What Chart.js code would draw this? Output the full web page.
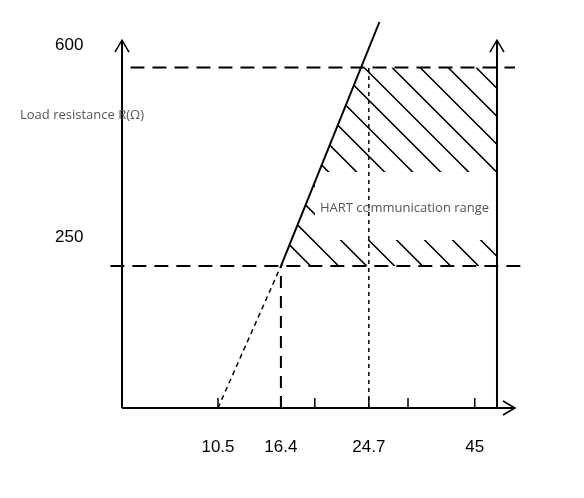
<!DOCTYPE html>
<html>
<head>
<meta charset="utf-8">
<script src="https://cdn.jsdelivr.net/npm/chart.js@4"></script>
<style>
body { margin: 0; background: #fff; }
#wrap { width: 584px; height: 498px; }
</style>
</head>
<body>
<div id="wrap"><canvas id="chart"></canvas></div>
<script>
// diagram units on x (the sketch is not to scale), labels are supply voltage
var tickLabels = ['10.5', '16.4', '24.7', '45'];
var tickPos = [9.06, 15.0, 23.3, 33.3];
var minorTicks = [18.2, 27.0];
var rightAxisX = 35.4;
var axisTopY = 648;
var loadLevels = [250, 600];
var loadLine = [{x: 9.06, y: 0}, {x: 15.0, y: 250}, {x: 24.3, y: 680}];

var black = '#000';

function line(data, dash, width) {
    return {
        data: data, borderColor: black, borderWidth: width || 2, borderDash: dash || [],
        pointRadius: 0, fill: false, tension: 0, clip: false
    };
}

var datasets = [
    line([{x: 0, y: 0}, {x: 0, y: axisTopY}]),
    line([{x: 0, y: 0}, {x: 37.1, y: 0}]),
    line([{x: rightAxisX, y: 0}, {x: rightAxisX, y: axisTopY}]),
    line([{x: -1.1, y: loadLevels[0]}, {x: 37.8, y: loadLevels[0]}], [14, 8]),
    line([{x: 0.8, y: loadLevels[1]}, {x: 37.1, y: loadLevels[1]}], [14, 8]),
    line([{x: tickPos[1], y: 0}, {x: tickPos[1], y: loadLevels[0]}], [12, 8]),
    line([{x: tickPos[2], y: 0}, {x: tickPos[2], y: loadLevels[1]}], [4, 4], 1.5),
    line([loadLine[0], loadLine[1]], [5, 4], 1.5),
    line([loadLine[1], loadLine[2]])
];

var decor = {
    id: 'decor',
    beforeDatasetsDraw: function(chart) {
        var c = chart.ctx, xs = chart.scales.x, ys = chart.scales.y;
        var X = function(v) { return xs.getPixelForValue(v); };
        var Y = function(v) { return ys.getPixelForValue(v); };
        var slope = (loadLine[2].y - loadLine[1].y) / (loadLine[2].x - loadLine[1].x);
        var xAt = function(r) { return loadLine[1].x + (r - loadLine[1].y) / slope; };
        // hatched region
        c.save();
        c.beginPath();
        c.moveTo(X(xAt(loadLevels[0])), Y(loadLevels[0]));
        c.lineTo(X(xAt(loadLevels[1])), Y(loadLevels[1]));
        c.lineTo(X(rightAxisX), Y(loadLevels[1]));
        c.lineTo(X(rightAxisX), Y(loadLevels[0]));
        c.closePath();
        c.clip();
        c.strokeStyle = black;
        c.lineWidth = 1.5;
        var h = Y(loadLevels[0]) - Y(loadLevels[1]);
        for (var s = 0; s < 720; s += 28) {
            c.beginPath();
            c.moveTo(s, Y(loadLevels[1]));
            c.lineTo(s + h, Y(loadLevels[0]));
            c.stroke();
        }
        c.fillStyle = '#fff';
        c.fillRect(315, 172, X(rightAxisX) - 316, 68);
        c.restore();
    },
    afterDatasetsDraw: function(chart) {
        var c = chart.ctx, xs = chart.scales.x, ys = chart.scales.y;
        var X = function(v) { return xs.getPixelForValue(v); };
        var Y = function(v) { return ys.getPixelForValue(v); };
        c.save();
        c.strokeStyle = black;
        c.lineWidth = 1.5;
        function arrow(x, y, dir) {
            c.beginPath();
            if (dir === 'up') { c.moveTo(x - 7, y + 12); c.lineTo(x, y); c.lineTo(x + 7, y + 12); }
            else { c.moveTo(x - 12, y - 7); c.lineTo(x, y); c.lineTo(x - 12, y + 7); }
            c.stroke();
        }
        arrow(X(0), Y(axisTopY), 'up');
        arrow(X(rightAxisX), Y(axisTopY), 'up');
        arrow(X(37.1), Y(0), 'right');
        // tick marks
        tickPos.concat(minorTicks).forEach(function(t) {
            c.beginPath(); c.moveTo(X(t), Y(0)); c.lineTo(X(t), Y(0) - 10); c.stroke();
        });
        c.fillStyle = black;
        c.font = '17px "Liberation Sans", Arial, sans-serif';
        c.textAlign = 'center';
        c.textBaseline = 'middle';
        tickLabels.forEach(function(l, i) { c.fillText(l, X(tickPos[i]), 447); });
        c.textAlign = 'left';
        c.fillText('600', 55, 45);
        c.fillText('250', 55, 237);
        c.fillStyle = '#555';
        c.font = '13px "Open Sans", sans-serif';
        c.fillText('Load resistance R(Ω)', 20, 115);
        c.fillText('HART communication range', 320, 208);
        c.restore();
    }
};

new Chart(document.getElementById('chart'), {
    type: 'line',
    data: { datasets: datasets },
    options: {
        responsive: true,
        maintainAspectRatio: false,
        animation: false,
        layout: { padding: { left: 122, right: 69, top: 22, bottom: 90 } },
        plugins: { legend: { display: false }, tooltip: { enabled: false } },
        scales: {
            x: { type: 'linear', min: 0, max: 37.1, display: false },
            y: { type: 'linear', min: 0, max: 680, display: false }
        }
    },
    plugins: [decor]
});
</script>
</body>
</html>
